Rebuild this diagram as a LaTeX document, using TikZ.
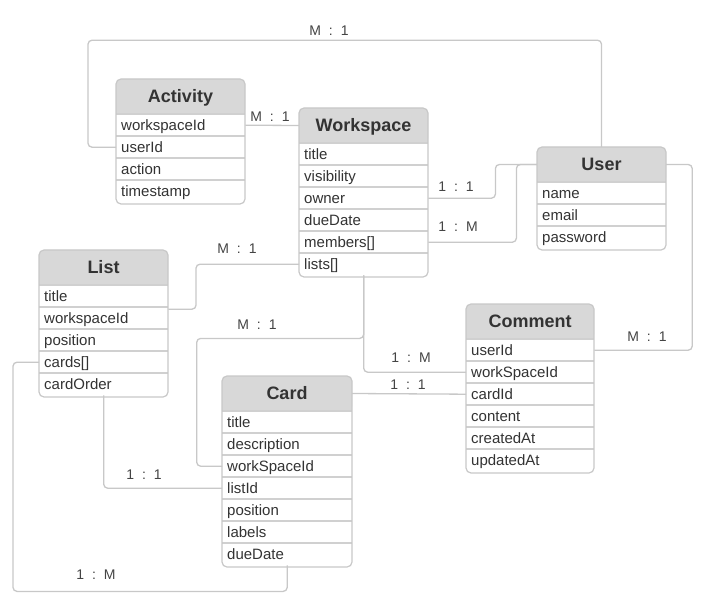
\documentclass[tikz,border=0pt]{standalone}
\usepackage{fontspec}
\setmainfont{Liberation Sans}
\definecolor{hdrgray}{RGB}{216,216,216}
\definecolor{edgegray}{RGB}{200,200,200}
\definecolor{sepgray}{RGB}{208,208,208}
\definecolor{txtgray}{RGB}{51,51,51}
\definecolor{lblgray}{RGB}{68,68,68}
\tikzset{
  fieldnode/.style={anchor=north west, minimum height=22pt, inner xsep=5pt, inner ysep=0pt,
    text height=14pt, text depth=3pt,
    align=left, font=\fontsize{15}{18}\selectfont, text=txtgray},
  titlenode/.style={minimum height=35pt, inner sep=0pt, text height=16pt, text depth=4pt,
    font=\bfseries\fontsize{18}{21}\selectfont, text=txtgray},
  boxline/.style={draw=edgegray, line width=1.2pt},
  sepline/.style={draw=sepgray, line width=1.2pt},
  conn/.style={draw=edgegray, line width=1.3pt, rounded corners=4pt},
  rel/.style={font=\fontsize{14}{16}\selectfont, text=lblgray, inner sep=1pt}
}
\newcommand{\rl}[2]{#1\hspace{8pt}:\hspace{8pt}#2}
% name, x, y, width, rows, title, fields
\newcommand{\erent}[7]{%
  \pgfmathsetmacro{\ertw}{#4-10}%
  \fill[white, rounded corners=5pt] (#2,#3) rectangle ++(#4,{35+#5*22+2});
  \fill[hdrgray, rounded corners=5pt] (#2,#3) rectangle ++(#4,35);
  \fill[hdrgray] ({#2},{#3+20}) rectangle ++(#4,15);
  \node[titlenode, minimum width=#4pt] (#1) at ({#2+#4/2},{#3+17.5}) {#6};
  \foreach \f [count=\i] in {#7} {
    \node[fieldnode, text width=\ertw pt] (#1-\i) at ({#2},{#3+35+(\i-1)*22}) {\f};
    \draw[sepline] ({#2},{#3+35+(\i-1)*22}) -- ++(#4,0);
  }
  \draw[boxline, rounded corners=5pt] (#2,#3) rectangle ++(#4,{35+#5*22+2});
}
\begin{document}
\begin{tikzpicture}[x=1pt, y=-1pt]
\useasboundingbox (0,0) rectangle (719,609);
\fill[white] (0,0) rectangle (719,609);

\erent{act}{116}{79}{129}{4}{Activity}{workspaceId,userId,action,timestamp}
\erent{ws}{299}{108}{129}{6}{Workspace}{title,visibility,owner,dueDate,members[],lists[]}
\erent{user}{537}{147}{129}{3}{User}{name,email,password}
\erent{cmt}{466}{304}{128}{6}{Comment}{userId,workSpaceId,cardId,content,createdAt,updatedAt}
\erent{list}{39}{250}{129}{5}{List}{title,workspaceId,position,cards[],cardOrder}
\erent{card}{222}{376}{130}{7}{Card}{title,description,workSpaceId,listId,position,labels,dueDate}

% Activity.userId -> User
\draw[conn] (act-2.west) -- ++(-28,0) -- ++(0,-107) -| (user.north);
\node[rel] (l1) at (329,31) {\rl{M}{1}};
% Activity.workspaceId -> Workspace
\draw[conn] (act-1.east) -- (ws.west);
\node[rel] (l2) at (270,117) {\rl{M}{1}};
% Workspace.owner -> User
\draw[conn] (ws-3.east) -- ++(67,0) |- (user.west);
\node[rel] (l3) at (456,187) {\rl{1}{1}};
% Workspace.members -> User
\draw[conn] (ws-5.east) -- ++(88,0) |- (user.west);
\node[rel] (l4) at (458,227) {\rl{1}{M}};
% Workspace.lists -> List
\draw[conn] (ws-6.west) -- ++(-103,0) |- ([yshift=9pt]list-2.east);
\node[rel] (l5) at (237,249) {\rl{M}{1}};
% Workspace -> Card.workSpaceId
\draw[conn] (ws-6.south) |- ++(-167,63) |- (card-3.west);
\node[rel] (l6) at (257,325) {\rl{M}{1}};
% Workspace -> Comment.workSpaceId
\draw[conn] (ws-6.south) |- (cmt-2.west);
\node[rel] (l7) at (411,358) {\rl{1}{M}};
% Card -> Comment.cardId
\draw[conn] (card.east) -- (cmt-3.west);
\node[rel] (l8) at (408,385) {\rl{1}{1}};
% User -> Comment.userId
\draw[conn] (user.east) -- ++(26,0) |- (cmt-1.east);
\node[rel] (l9) at (647,337) {\rl{M}{1}};
% List -> Card.listId
\draw[conn] (list-5.south) |- (card-4.west);
\node[rel] (l10) at (144,475) {\rl{1}{1}};
% List.cards -> Card
\draw[conn] (list-4.west) -- ++(-26,0) |- ([yshift=-26pt]card-7.south) -- (card-7.south);
\node[rel] (l11) at (96,575) {\rl{1}{M}};
\end{tikzpicture}
\end{document}
